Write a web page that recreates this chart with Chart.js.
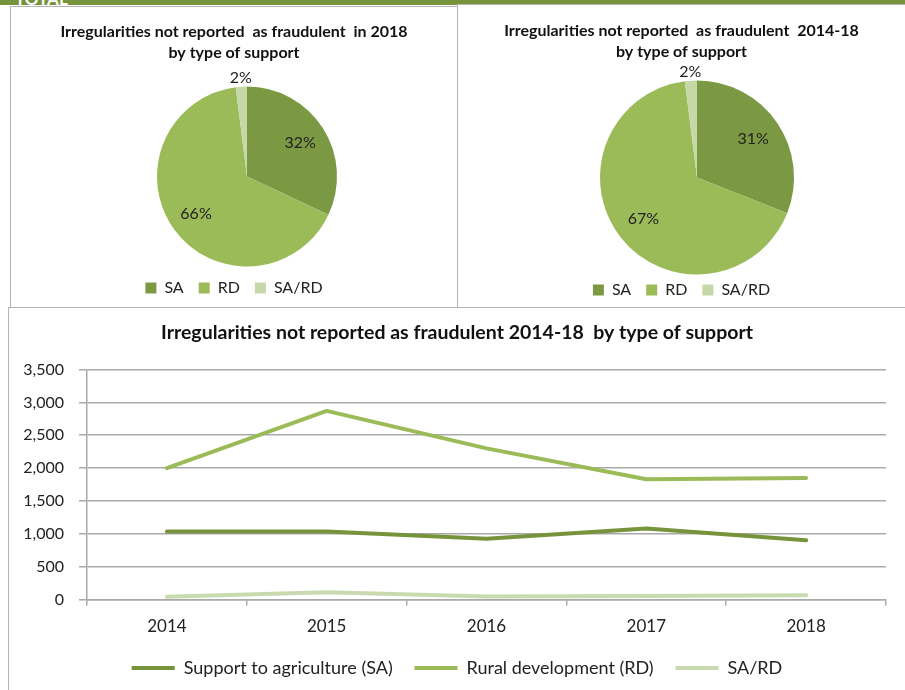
<!DOCTYPE html>
<html>
<head>
<meta charset="utf-8">
<script src="https://cdn.jsdelivr.net/npm/chart.js@4.4.0/dist/chart.umd.min.js"></script>
<style>
  body { margin: 0; width: 905px; height: 690px; position: relative; overflow: hidden; background: #fff; font-family: Lato, sans-serif; }
  #topbar { position: absolute; left: 0; top: 0; width: 905px; height: 5px; background: #77933C; overflow: hidden; }
  #topbar span { position: absolute; top: -12px; left: 15px; color: #fff; font: bold 17px Lato, sans-serif; }
  .box { position: absolute; border: 1px solid #B4B4B4; background: #fff; }
  canvas { position: absolute; }
</style>
</head>
<body>
<div id="topbar"><span>TOTAL</span></div>
<div class="box" style="left:10px; top:6px; width:446px; height:302px;"></div>
<div class="box" style="left:457px; top:4px; width:460px; height:302px;"></div>
<div class="box" style="left:8px; top:307px; width:910px; height:400px;"></div>

<canvas id="pie2018" width="446" height="298" style="left:11px; top:8px;"></canvas>
<canvas id="pieAll" width="447" height="303" style="left:458px; top:5px;"></canvas>
<canvas id="lineChart" width="896" height="378" style="left:9px; top:309px;"></canvas>

<script>
// === DATA ===
const pieLabels = ['SA', 'RD', 'SA/RD'];
const pie2018 = [32, 66, 2];
const pie2014to18 = [31, 67, 2];
const pieColors = ['#7B9943', '#9BBB59', '#C6D8A8'];

const years = ['2014', '2015', '2016', '2017', '2018'];
const saValues = [1035, 1035, 925, 1080, 900];
const rdValues = [2000, 2870, 2300, 1830, 1850];
const sardValues = [40, 110, 45, 55, 65];
const seriesNames = ['Support to agriculture (SA)', 'Rural development (RD)', 'SA/RD'];
const lineColors = ['#77933C', '#9BBB59', '#C9DAB0'];

const gridColor = '#A9A9A9';
const textColor = '#222';

// === PIE LABELS (percent inside, small slices just outside) ===
const pieLabelPlugin = {
  id: 'pieLabels',
  beforeDatasetsDraw(chart, args, opts) {
    chart.ctx.save();
    chart.ctx.translate(opts.dx || 0, opts.dy || 0);
  },
  afterDatasetsDraw(chart, args, opts) {
    const ctx = chart.ctx;
    const data = chart.data.datasets[0].data;
    const total = data.reduce((a, b) => a + b, 0);
    ctx.font = '16px Lato';
    ctx.fillStyle = textColor;
    ctx.textAlign = 'center';
    ctx.textBaseline = 'middle';
    chart.getDatasetMeta(0).data.forEach((arc, i) => {
      const pct = data[i] / total * 100;
      const mid = (arc.startAngle + arc.endAngle) / 2;
      const r = pct < 5 ? arc.outerRadius + 9 : arc.outerRadius * 0.7;
      ctx.fillText(Math.round(pct) + '%', arc.x + Math.cos(mid) * r, arc.y + Math.sin(mid) * r);
    });
    ctx.restore();
  }
};

function makePie(id, titleLines, values, radius, titlePad, dx, dy) {
  return new Chart(document.getElementById(id), {
    type: 'pie',
    data: {
      labels: pieLabels,
      datasets: [{
        data: values,
        backgroundColor: pieColors,
        borderWidth: 0,
        hoverOffset: 0,
        radius: radius
      }]
    },
    options: {
      responsive: false,
      animation: false,
      plugins: {
        title: {
          display: true,
          text: titleLines,
          color: '#111',
          font: { family: 'Lato', size: 16, weight: 'bold', lineHeight: '21px' },
          padding: { top: titlePad, bottom: 10 }
        },
        legend: {
          position: 'bottom',
          labels: {
            boxWidth: 11,
            boxHeight: 11,
            padding: 15,
            color: textColor,
            font: { family: 'Lato', size: 16 }
          }
        },
        tooltip: { enabled: false },
        pieLabels: { dx: dx, dy: dy }
      }
    },
    plugins: [pieLabelPlugin]
  });
}

makePie('pie2018',
  ['Irregularities not reported  as fraudulent  in 2018', 'by type of support'],
  pie2018, 90, 13.5, 13, 7.25);
makePie('pieAll',
  ['Irregularities not reported  as fraudulent  2014-18', 'by type of support'],
  pie2014to18, 97, 15.5, 15.5, 7.75);

// === LINE CHART ===
new Chart(document.getElementById('lineChart'), {
  type: 'line',
  data: {
    labels: years,
    datasets: [
      { label: seriesNames[0], data: saValues, borderColor: lineColors[0], backgroundColor: lineColors[0] },
      { label: seriesNames[1], data: rdValues, borderColor: lineColors[1], backgroundColor: lineColors[1] },
      { label: seriesNames[2], data: sardValues, borderColor: lineColors[2], backgroundColor: lineColors[2] }
    ]
  },
  options: {
    responsive: false,
    animation: false,
    elements: {
      line: { borderWidth: 4, tension: 0, borderCapStyle: 'round', borderJoinStyle: 'round' },
      point: { radius: 0, hoverRadius: 0, borderWidth: 4 }
    },
    plugins: {
      title: {
        display: true,
        text: 'Irregularities not reported as fraudulent 2014-18  by type of support',
        color: '#111',
        font: { family: 'Lato', size: 19.5, weight: 'bold', lineHeight: 1.2 },
        padding: { top: 12.3, bottom: 24.8 }
      },
      legend: {
        position: 'bottom',
        labels: {
          usePointStyle: true,
          pointStyle: 'line',
          pointStyleWidth: 43,
          padding: 21.8,
          color: textColor,
          font: { family: 'Lato', size: 18 }
        }
      },
      tooltip: { enabled: false }
    },
    scales: {
      x: {
        offset: true,
        grid: { offset: true, drawOnChartArea: false, tickLength: 6, color: gridColor, lineWidth: 1.5 },
        border: { color: gridColor, width: 1.5 },
        ticks: { padding: 11.3, color: textColor, font: { family: 'Lato', size: 17, lineHeight: 1.2 } },
        afterFit(scale) { scale.height = 37.7; }
      },
      y: {
        min: 0,
        max: 3500,
        ticks: {
          stepSize: 500,
          padding: 15,
          color: textColor,
          font: { family: 'Lato', size: 16 },
          callback: v => v.toLocaleString('en-US')
        },
        grid: { tickLength: 8, color: gridColor, lineWidth: 1.5 },
        border: { color: gridColor, width: 1.5 },
        afterFit(scale) { scale.width = 78; }
      },
      // empty right margin so the plot ends where the reference's does
      yRight: {
        position: 'right',
        grid: { display: false },
        border: { display: false },
        ticks: { display: false },
        afterFit(scale) { scale.width = 19; }
      }
    }
  }
});
</script>
</body>
</html>
